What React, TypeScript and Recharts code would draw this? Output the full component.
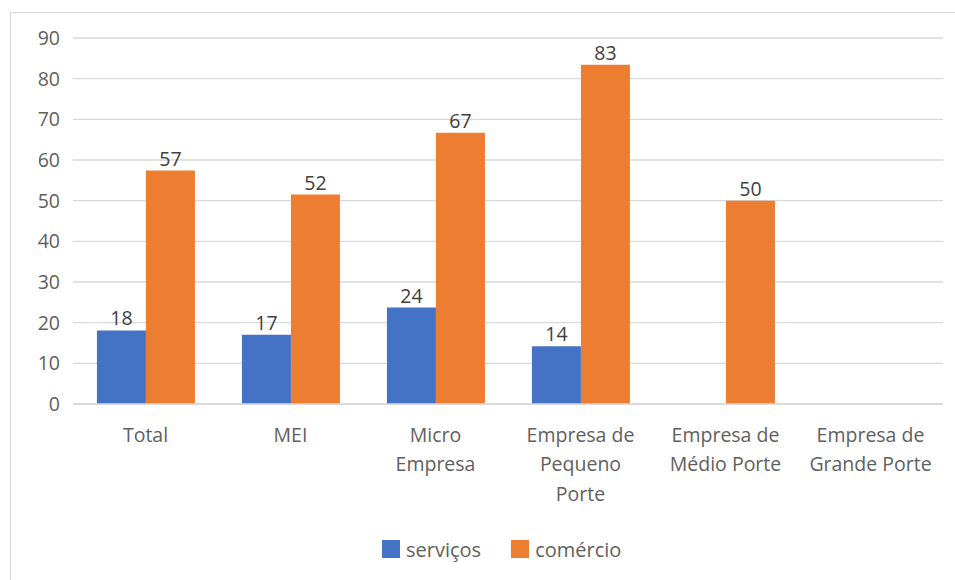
import React from 'react';
import { BarChart, Bar, XAxis, YAxis, CartesianGrid, LabelList, Legend } from 'recharts';

const categories = ['Total', 'MEI', 'Micro Empresa', 'Empresa de Pequeno Porte', 'Empresa de Médio Porte', 'Empresa de Grande Porte'];
const tickLines: string[][] = [
  ['Total'],
  ['MEI'],
  ['Micro', 'Empresa'],
  ['Empresa de', 'Pequeno', 'Porte'],
  ['Empresa de', 'Médio Porte'],
  ['Empresa de', 'Grande Porte'],
];
const servicos: (number | null)[] = [18.1, 17.0, 23.7, 14.2, null, null];
const comercio: (number | null)[] = [57.4, 51.5, 66.7, 83.4, 50.0, null];
const yTicks = [0, 10, 20, 30, 40, 50, 60, 70, 80, 90];

const data = categories.map((c, i) => ({ name: c, servicos: servicos[i], comercio: comercio[i] }));

const FONT = '"Open Sans", "Noto Sans", sans-serif';
const FS = 19.5;
const TEXT = '#5f5f5f';

const XTick = (props: any) => {
  const { x, y, payload } = props;
  const idx = categories.indexOf(payload.value);
  const lines = idx >= 0 ? tickLines[idx] : [payload.value];
  return (
    <text x={x} y={y} textAnchor="middle" fill={TEXT} fontFamily={FONT} fontSize={FS}>
      {lines.map((l, i) => (
        <tspan key={i} x={x} y={y + 36 + i * 29.3}>{l}</tspan>
      ))}
    </text>
  );
};

const LegendContent = () => (
  <div style={{ display: 'flex', justifyContent: 'flex-start', alignItems: 'center', height: 40, paddingLeft: 382, fontFamily: FONT, fontSize: 20, color: TEXT }}>
    <div style={{ display: 'flex', alignItems: 'center', marginRight: 30 }}>
      <span style={{ width: 18, height: 18, background: '#4472C4', display: 'inline-block', marginRight: 6 }} />
      <span>serviços</span>
    </div>
    <div style={{ display: 'flex', alignItems: 'center' }}>
      <span style={{ width: 18, height: 18, background: '#ED7D31', display: 'inline-block', marginRight: 6 }} />
      <span>comércio</span>
    </div>
  </div>
);

const fmt = (v: any) => (v === null || v === undefined ? '' : Math.round(Number(v)).toString());

export default function App() {
  return (
    <div style={{ position: 'absolute', left: 0, top: 0, width: 955, height: 580, background: '#fff', overflow: 'hidden' }}>
      <div style={{ position: 'absolute', left: 10, top: 12, width: 1000, height: 700, border: '1px solid #d9d9d9', boxSizing: 'border-box' }} />
      <div style={{ position: 'absolute', left: 0, top: 0 }}>
        <BarChart
          width={955}
          height={580}
          data={data}
          margin={{ top: 38, right: 12, left: 0, bottom: 11 }}
          barCategoryGap="16.5%"
          barGap={0}
        >
          <CartesianGrid vertical={false} stroke="#d9d9d9" strokeWidth={1.3} />
          <XAxis
            dataKey="name"
            axisLine={{ stroke: '#d9d9d9', strokeWidth: 1.3 }}
            tickLine={false}
            tickSize={0}
            tick={<XTick />}
            interval={0}
            height={125}
          />
          <YAxis
            domain={[0, 90]}
            ticks={yTicks}
            axisLine={false}
            tickLine={false}
            tickSize={0}
            tickMargin={13}
            width={73}
            tick={{ fill: TEXT, fontFamily: FONT, fontSize: FS }}
            interval={0}
          />
          <Legend verticalAlign="bottom" height={40} content={<LegendContent />} />
          <Bar dataKey="servicos" name="serviços" fill="#4472C4" isAnimationActive={false}>
            <LabelList dataKey="servicos" position="top" offset={5} formatter={fmt} fill="#404040" fontFamily={FONT} fontSize={FS} />
          </Bar>
          <Bar dataKey="comercio" name="comércio" fill="#ED7D31" isAnimationActive={false}>
            <LabelList dataKey="comercio" position="top" offset={5} formatter={fmt} fill="#404040" fontFamily={FONT} fontSize={FS} />
          </Bar>
        </BarChart>
      </div>
    </div>
  );
}
